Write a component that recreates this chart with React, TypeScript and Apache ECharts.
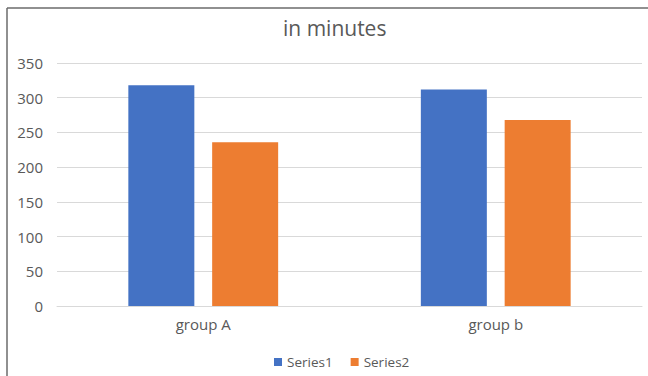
import React, { useEffect, useRef } from "react";
import * as echarts from "echarts";

const categories = ["group A", "group b"];
const series1 = [318, 312];
const series2 = [236, 268];
const seriesNames = ["Series1", "Series2"];
const titleText = "in minutes";

export default function App() {
  const ref = useRef<HTMLDivElement>(null);
  useEffect(() => {
    if (!ref.current) return;
    const chart = echarts.init(ref.current, null, { renderer: "svg" });
    const font = "'Open Sans', 'Noto Sans', sans-serif";
    chart.setOption({
      animation: false,
      backgroundColor: "#ffffff",
      title: {
        text: titleText,
        left: 278,
        top: 12,
        textStyle: { fontFamily: font, fontSize: 21, fontWeight: "normal", color: "#595959" },
      },
      legend: {
        bottom: 2,
        left: 269,
        icon: "rect",
        itemWidth: 8,
        itemHeight: 8,
        itemGap: 18,
        textStyle: { fontFamily: font, fontSize: 13.5, color: "#595959" },
        data: seriesNames,
      },
      grid: { left: 57, right: 6, top: 63, bottom: 70, containLabel: false },
      xAxis: {
        type: "category",
        data: categories,
        axisLine: { lineStyle: { color: "#d9d9d9", width: 1 } },
        axisTick: { show: false },
        axisLabel: { fontFamily: font, fontSize: 15, color: "#595959", margin: 10 },
      },
      yAxis: {
        type: "value",
        min: 0,
        max: 350,
        interval: 50,
        axisLine: { show: false },
        axisTick: { show: false },
        splitLine: { lineStyle: { color: "#d9d9d9", width: 1 } },
        axisLabel: { fontFamily: font, fontSize: 15, color: "#595959", margin: 14 },
      },
      series: [
        {
          name: seriesNames[0],
          type: "bar",
          data: series1,
          barWidth: 66,
          barGap: "27%",
          itemStyle: { color: "#4472C4" },
        },
        {
          name: seriesNames[1],
          type: "bar",
          data: series2,
          barWidth: 66,
          barGap: "27%",
          itemStyle: { color: "#ED7D31" },
        },
      ],
      graphic: [
        {
          type: "line",
          shape: { x1: 7, y1: 8, x2: 7, y2: 376 },
          style: { stroke: "#6b6b6b", lineWidth: 1.5 },
          silent: true,
        },
        {
          type: "line",
          shape: { x1: 7, y1: 8, x2: 648, y2: 8 },
          style: { stroke: "#6b6b6b", lineWidth: 1.5 },
          silent: true,
        },
      ],
    });
    return () => chart.dispose();
  }, []);
  return (
    <div
      ref={ref}
      style={{ position: "fixed", left: 0, top: 0, width: 648, height: 376 }}
    />
  );
}
